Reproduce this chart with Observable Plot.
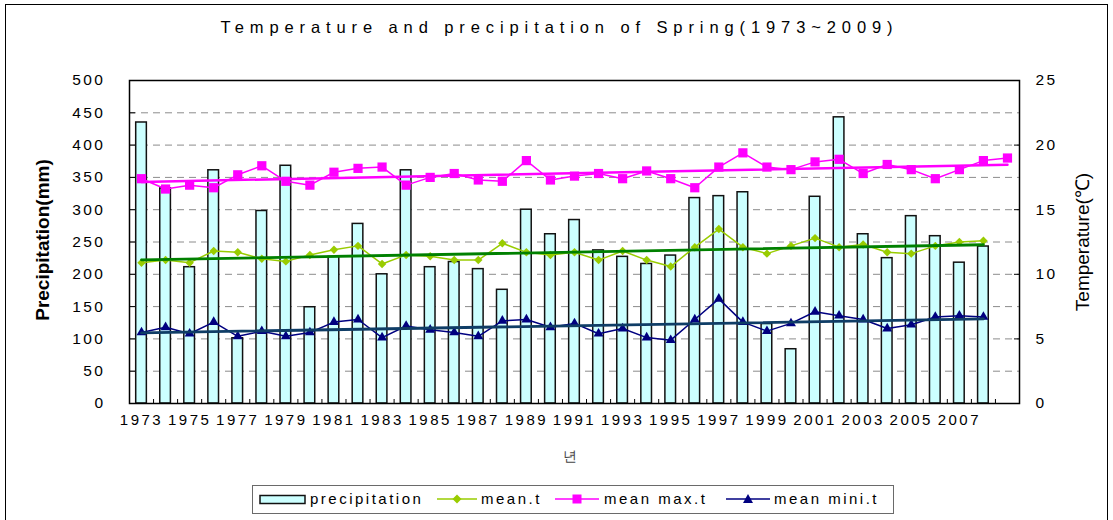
<!DOCTYPE html>
<html>
<head>
<meta charset="utf-8">
<script src="https://cdn.jsdelivr.net/npm/d3@7"></script>
<script src="https://cdn.jsdelivr.net/npm/@observablehq/plot@0.6"></script>
<style>
  body { margin: 0; background: #fff; }
  #wrap { position: relative; width: 1113px; height: 520px; overflow: hidden; background: #fff;
          font-family: "Liberation Sans", Arial, sans-serif; color: #000; }
  #frame { position: absolute; left: 5px; top: 4px; width: 1103px; height: 540px; border: 1px solid #000; box-sizing: border-box; }
  #chart { position: absolute; left: 0; top: 0; }
  #chart svg text { letter-spacing: 2.5px; }
  #title { position: absolute; left: 3px; top: 17px; width: 1113px; text-align: center; font-size: 16.5px;
           letter-spacing: 5.9px; line-height: 21px; white-space: nowrap; }
  .ylab { position: absolute; white-space: nowrap; font-size: 19px; line-height: 22px; }
  #ylabL { left: 43px; top: 240px; transform: translate(-50%, -50%) rotate(-90deg); font-weight: bold; }
  #ylabR { left: 1083px; top: 242px; transform: translate(-50%, -50%) rotate(-90deg); }
  #xlab { position: absolute; left: 570px; top: 457px; transform: translate(-50%, -50%); font-size: 14px; color: #444; }
  #legend { position: absolute; left: 252px; top: 485px; width: 642px; height: 29px; border: 1.5px solid #6a6a6a;
            box-sizing: border-box; background: #fff; font-size: 15px; letter-spacing: 2.5px; }
  #legend .sw { position: absolute; top: 0; }
  #legend .lt { position: absolute; top: 4px; line-height: 18px; white-space: nowrap; }
</style>
</head>
<body>
<div id="wrap">
  <div id="frame"></div>
  <div id="chart"></div>
  <div id="title"></div>
  <div id="ylabL" class="ylab"></div>
  <div id="ylabR" class="ylab"></div>
  <div id="xlab"></div>
  <div id="legend"></div>
</div>
<script>
// ---------- data ----------
const years = [1973, 1974, 1975, 1976, 1977, 1978, 1979, 1980, 1981, 1982, 1983, 1984, 1985,
  1986, 1987, 1988, 1989, 1990, 1991, 1992, 1993, 1994, 1995, 1996, 1997, 1998, 1999, 2000,
  2001, 2002, 2003, 2004, 2005, 2006, 2007, 2008, 2009];
// precipitation (mm), 1973–2008
const precipitation = [435, 333, 211, 361, 101, 298, 368, 149, 227, 278, 200, 361, 211,
  219, 208, 176, 300, 262, 284, 237, 227, 216, 229, 318, 321, 327, 123, 84,
  320, 443, 262, 225, 290, 259, 218, 243];
// mean temperature (°C), 1973–2008
const meanT = [10.9, 11.1, 10.9, 11.8, 11.7, 11.2, 11.0, 11.5, 11.9, 12.2, 10.8, 11.5, 11.4,
  11.1, 11.1, 12.4, 11.7, 11.5, 11.7, 11.1, 11.8, 11.1, 10.6, 12.1, 13.5, 12.1, 11.6, 12.2,
  12.8, 12.1, 12.3, 11.7, 11.6, 12.2, 12.5, 12.6];
// mean max temperature (°C), 1973–2009
const meanMaxT = [17.4, 16.6, 16.9, 16.7, 17.7, 18.4, 17.2, 16.9, 17.9, 18.2, 18.3, 16.9, 17.5,
  17.8, 17.3, 17.2, 18.8, 17.3, 17.6, 17.8, 17.4, 18.0, 17.4, 16.7, 18.3, 19.4, 18.3, 18.1,
  18.7, 18.9, 17.8, 18.5, 18.1, 17.4, 18.1, 18.8, 19.0];
// mean min temperature (°C), 1973–2008
const meanMiniT = [5.5, 5.9, 5.4, 6.3, 5.2, 5.6, 5.2, 5.5, 6.3, 6.5, 5.1, 6.0, 5.7,
  5.5, 5.2, 6.4, 6.5, 5.9, 6.2, 5.4, 5.8, 5.1, 4.9, 6.5, 8.1, 6.3, 5.6, 6.2,
  7.1, 6.8, 6.5, 5.8, 6.1, 6.7, 6.8, 6.7];

const xTickLabels = [1973, 1975, 1977, 1979, 1981, 1983, 1985, 1987, 1989, 1991, 1993, 1995,
  1997, 1999, 2001, 2003, 2005, 2007];
const precipTicks = [0, 50, 100, 150, 200, 250, 300, 350, 400, 450, 500];
const tempTicks = [0, 5, 10, 15, 20, 25];
const gridValues = [50, 100, 150, 200, 250, 300, 350, 400, 450];

const titleText = "Temperature and precipitation of Spring(1973~2009)";
const yLabelLeft = "Precipitation(mm)";
const yLabelRight = "Temperature(℃)";
const xLabel = "년";
const seriesNames = ["precipitation", "mean.t", "mean max.t", "mean mini.t"];

const colors = { precip: "#ccffff", mean: "#99cc00", max: "#ff00ff", min: "#000080",
  meanTrend: "#008000", maxTrend: "#ff00ff", minTrend: "#0f3d66" };

// ---------- tables ----------
const toRows = arr => arr.map((v, i) => ({ year: years[i], value: v }));
const precipData = toRows(precipitation);
const meanData = toRows(meanT);
const maxData = toRows(meanMaxT);
const minData = toRows(meanMiniT);

// temperature shares the y scale: 25 °C ↔ 500 mm
const K = precipTicks[precipTicks.length - 1] / tempTicks[tempTicks.length - 1];
const ty = d => d.value * K;
const boundaries = [years[0] - 0.5, ...years.map(y => y + 0.5)];

const chart = Plot.plot({
  width: 1113,
  height: 470,
  marginLeft: 129,
  marginRight: 94,
  marginTop: 80,
  marginBottom: 67,
  x: { type: "linear", domain: [years[0] - 0.5, years[years.length - 1] + 0.5], axis: null },
  y: { domain: [0, 500], axis: null },
  style: { fontFamily: "'Liberation Sans', Arial, sans-serif", fontSize: "15px", color: "#000", background: "transparent", overflow: "visible" },
  marks: [
    Plot.gridY(gridValues, { stroke: "#8c8c8c", strokeOpacity: 1, strokeDasharray: "7,5", strokeWidth: 1 }),
    Plot.rectY(precipData, { x1: d => d.year - 0.5, x2: d => d.year + 0.5, y: "value",
      insetLeft: 6.7, insetRight: 6.7, fill: colors.precip, stroke: "#111", strokeWidth: 1.5 }),
    Plot.frame({ stroke: "#000", strokeWidth: 1.5 }),
    Plot.axisY({ anchor: "left", ticks: precipTicks, tickSize: -6, tickPadding: 30, label: null,
      tickFormat: d => String(d), stroke: "#000", fontSize: 15.5 }),
    Plot.axisY({ anchor: "right", ticks: tempTicks.map(t => t * K), tickSize: -6, tickPadding: 22, label: null,
      tickFormat: d => String(d / K), stroke: "#000", fontSize: 15.5 }),
    Plot.axisX({ anchor: "bottom", ticks: boundaries, tickSize: -4, tickPadding: 0, label: null,
      tickFormat: () => "", stroke: "#000" }),
    Plot.axisX({ anchor: "bottom", ticks: xTickLabels, tickSize: 0, tickPadding: 11, label: null,
      tickFormat: d => String(d), fontSize: 15 }),
    // series lines
    Plot.line(meanData, { x: "year", y: ty, stroke: colors.mean, strokeWidth: 1.5 }),
    Plot.line(maxData, { x: "year", y: ty, stroke: colors.max, strokeWidth: 1.5 }),
    Plot.line(minData, { x: "year", y: ty, stroke: colors.min, strokeWidth: 1.5 }),
    // markers
    Plot.dot(meanData, { x: "year", y: ty, symbol: "diamond2", r: 3.8, fill: colors.mean, stroke: "none" }),
    Plot.dot(maxData, { x: "year", y: ty, symbol: "square", r: 5.2, fill: colors.max, stroke: "none" }),
    Plot.dot(minData, { x: "year", y: ty, symbol: "triangle", r: 3.7, fill: colors.min, stroke: "none" }),
    // linear trends
    Plot.linearRegressionY(maxData, { x: "year", y: ty, stroke: colors.maxTrend, strokeWidth: 2.5, ci: 0 }),
    Plot.linearRegressionY(meanData, { x: "year", y: ty, stroke: colors.meanTrend, strokeWidth: 2.8, ci: 0 }),
    Plot.linearRegressionY(minData, { x: "year", y: ty, stroke: colors.minTrend, strokeWidth: 2.8, ci: 0 })
  ]
});
document.getElementById("chart").appendChild(chart);

document.getElementById("title").textContent = titleText;
document.getElementById("ylabL").textContent = yLabelLeft;
document.getElementById("ylabR").textContent = yLabelRight;
document.getElementById("xlab").textContent = xLabel;

// ---------- legend ----------
const legend = document.getElementById("legend");
const ns = "http://www.w3.org/2000/svg";
function swatch(left, width, draw) {
  const s = document.createElementNS(ns, "svg");
  s.setAttribute("class", "sw");
  s.setAttribute("width", width);
  s.setAttribute("height", 26);
  s.style.left = left + "px";
  s.innerHTML = draw(width);
  legend.appendChild(s);
}
function label(left, text) {
  const d = document.createElement("div");
  d.className = "lt";
  d.style.left = left + "px";
  d.textContent = text;
  legend.appendChild(d);
}
swatch(6, 48, w => `<rect x="1" y="9.5" width="${w - 3}" height="8" fill="${colors.precip}" stroke="#111" stroke-width="1.5"/>`);
label(57, seriesNames[0]);
swatch(183, 42, w => `<line x1="1" x2="${w - 1}" y1="13" y2="13" stroke="${colors.mean}" stroke-width="1.5"/>` +
  `<path d="M${w / 2},8.5L${w / 2 + 4.5},13L${w / 2},17.5L${w / 2 - 4.5},13Z" fill="${colors.mean}"/>`);
label(228, seriesNames[1]);
swatch(301, 46, w => `<line x1="1" x2="${w - 1}" y1="13" y2="13" stroke="${colors.max}" stroke-width="1.5"/>` +
  `<rect x="${w / 2 - 4.5}" y="8.5" width="9" height="9" fill="${colors.max}"/>`);
label(351, seriesNames[2]);
swatch(472, 46, w => `<line x1="1" x2="${w - 1}" y1="13" y2="13" stroke="${colors.min}" stroke-width="1.5"/>` +
  `<path d="M${w / 2},8L${w / 2 + 5},17L${w / 2 - 5},17Z" fill="${colors.min}"/>`);
label(521, seriesNames[3]);
</script>
</body>
</html>
